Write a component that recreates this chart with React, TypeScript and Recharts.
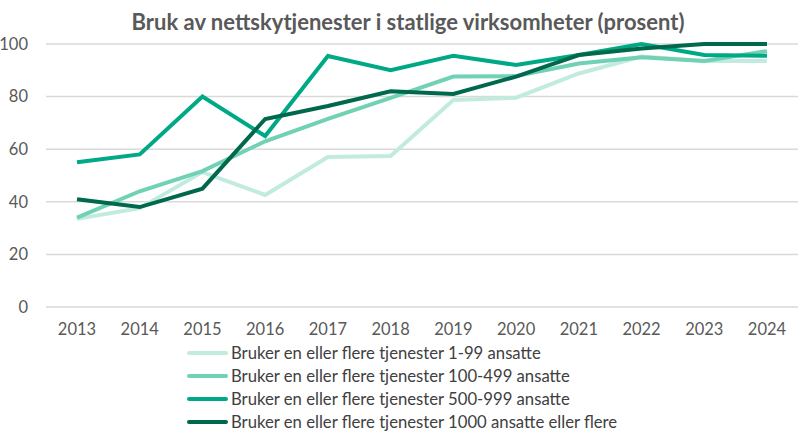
import { LineChart, Line, XAxis, YAxis, CartesianGrid, Legend } from "recharts";

// Years on the x axis
const YEARS = ["2013", "2014", "2015", "2016", "2017", "2018", "2019", "2020", "2021", "2022", "2023", "2024"];

// Share of state agencies using cloud services, per size group (percent)
const SMALL = [33.5, 37.6, 51.3, 42.6, 57, 57.4, 78.7, 79.6, 88.8, 95.2, 93.5, 93.5];
const MEDIUM = [34, 44, 51.7, 63, 71.5, 79.5, 87.6, 87.8, 92.6, 95, 93.5, 97.3];
const LARGE = [55, 58, 80, 65, 95.4, 90, 95.5, 92, 95.8, 100, 95.8, 95.5];
const LARGEST = [41, 38, 45, 71.5, 76.4, 82, 81, 87.6, 95.8, 98.3, 100, 100];

const Y_TICKS = [0, 20, 40, 60, 80, 100];

const SERIES = [
  { key: "s1", name: "Bruker en eller flere tjenester 1-99 ansatte", color: "#c2ebdf", values: SMALL },
  { key: "s2", name: "Bruker en eller flere tjenester 100-499 ansatte", color: "#71d1b4", values: MEDIUM },
  { key: "s3", name: "Bruker en eller flere tjenester 500-999 ansatte", color: "#00a985", values: LARGE },
  { key: "s4", name: "Bruker en eller flere tjenester 1000 ansatte eller flere", color: "#00684c", values: LARGEST },
];

const data = YEARS.map((year, i) => {
  const row: Record<string, number | string> = { year };
  SERIES.forEach((s) => (row[s.key] = s.values[i]));
  return row;
});

const FONT = "'Source Sans Pro', Lato, 'Open Sans', sans-serif";

function LegendList() {
  return (
    <div style={{ paddingLeft: 187, marginTop: -4, fontFamily: FONT }}>
      {SERIES.map((s) => (
        <div key={s.key} style={{ display: "flex", alignItems: "center", height: 23 }}>
          <span
            style={{ width: 41, height: 4, borderRadius: 2, background: s.color, marginRight: 3 }}
          />
          <span style={{ fontSize: 16.7, color: "#404040", whiteSpace: "nowrap" }}>{s.name}</span>
        </div>
      ))}
    </div>
  );
}

export default function App() {
  return (
    <div style={{ position: "absolute", left: 0, top: 0, width: 800, height: 433, background: "#fff", overflow: "hidden" }}>
      <div
        style={{
          position: "absolute",
          top: 8,
          left: 0,
          width: 816,
          textAlign: "center",
          fontFamily: FONT,
          fontWeight: 700,
          fontSize: 22,
          color: "#595959",
          whiteSpace: "nowrap",
        }}
      >
        Bruk av nettskytjenester i statlige virksomheter (prosent)
      </div>
      <LineChart width={800} height={433} data={data} margin={{ top: 44, right: 2, bottom: 0, left: 0 }}>
        <CartesianGrid vertical={false} stroke="#d9d9d9" strokeWidth={1.5} />
        <XAxis
          dataKey="year"
          axisLine={false}
          tickLine={false}
          tickSize={0}
          tickMargin={16}
          height={38}
          padding={{ left: 31, right: 31 }}
          tick={{ fill: "#595959", fontSize: 16.5, fontFamily: FONT }}
        />
        <YAxis
          domain={[0, 100]}
          ticks={Y_TICKS}
          axisLine={false}
          tickLine={false}
          tickSize={0}
          tickMargin={18}
          width={46}
          tick={{ fill: "#595959", fontSize: 16.5, fontFamily: FONT }}
        />
        <Legend verticalAlign="bottom" align="left" height={88} content={() => <LegendList />} />
        {SERIES.map((s) => (
          <Line
            key={s.key}
            dataKey={s.key}
            name={s.name}
            stroke={s.color}
            strokeWidth={4}
            dot={false}
            activeDot={false}
            isAnimationActive={false}
          />
        ))}
      </LineChart>
    </div>
  );
}
